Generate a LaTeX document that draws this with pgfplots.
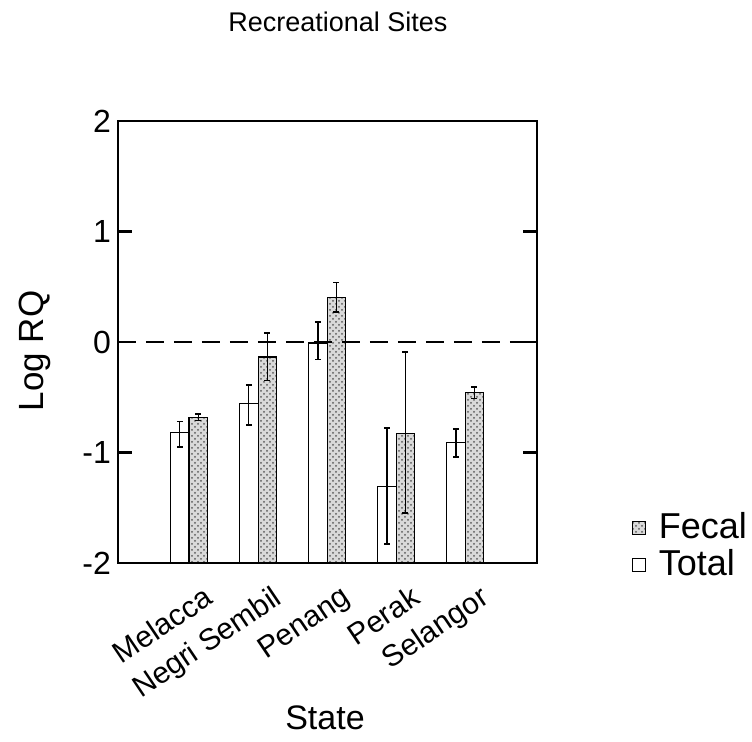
\documentclass[border=0pt]{standalone}
\usepackage{fontspec}
\setmainfont{Liberation Sans}
\usepackage{pgfplots}
\usepackage{pgfplotstable}
\pgfplotsset{compat=1.18}
\usetikzlibrary{patterns}

% values: log RQ, error plus, error minus
\pgfplotstableread{
x total tplus tminus
0 -0.82 0.10 0.13
1 -0.555 0.165 0.195
2 -0.01 0.19 0.15
3 -1.31 0.53 0.52
4 -0.91 0.12 0.13
}\totaltable
\pgfplotstableread{
x fecal fplus fminus
0 -0.68 0.03 0.03
1 -0.135 0.215 0.215
2 0.40 0.14 0.13
3 -0.83 0.74 0.72
4 -0.46 0.05 0.05
}\fecaltable

\begin{document}
\begin{tikzpicture}
\useasboundingbox (-59pt,-89.5pt) rectangle (317pt,281.5pt);
\begin{axis}[
  at={(0,0)}, anchor=south west,
  scale only axis,
  width=209.5pt, height=221pt,
  xmin=-1.03, xmax=5.04,
  ymin=0, ymax=4,
  ybar=0pt, bar width=9.25pt,
  axis line style={line width=1.1pt},
  xtick={0,1,2,3,4},
  xticklabels={Melacca,Negri Sembil,Penang,Perak,Selangor},
  major x tick style={draw=none},
  xticklabel style={font=\fontsize{15}{17}\selectfont, rotate=34, anchor=north east, xshift=3pt, yshift=-9pt},
  ytick={0,1,2,3,4},
  yticklabels={-2,-1,0,1,2},
  ytick pos=both,
  tick align=inside,
  major tick length=7pt,
  every tick/.style={line width=1.1pt, black},
  yticklabel style={font=\fontsize{16}{18}\selectfont},
  title={Recreational Sites},
  title style={font=\fontsize{13.5}{15}\selectfont, at={(axis description cs:0.525,1.197)}, anchor=center},
  xlabel={State},
  xlabel style={font=\fontsize{17}{19}\selectfont, at={(axis description cs:0.494,-0.351)}, anchor=center},
  ylabel={Log RQ},
  ylabel style={font=\fontsize{17.5}{19}\selectfont, at={(axis description cs:-0.198,0.48)}, anchor=center},
  legend style={at={(1.225,0.124)}, anchor=north west, draw=none, fill=none, inner sep=0pt,
    font=\fontsize{18}{21.5}\selectfont, row sep=0pt},
  legend cell align=left,
  reverse legend,
  legend image code/.code={\draw[#1, line width=0.6pt] (0pt,-3.5pt) rectangle (6.5pt,3pt); \path (11pt,0pt);},
]
\addplot[draw=black, line width=0.6pt, fill=white,
  error bars/.cd, y dir=both, y explicit,
  error bar style={line width=0.6pt, black},
  error mark options={rotate=90, mark size=1.5pt, line width=0.8pt}]
  table[x=x, y expr=\thisrow{total}+2, y error plus=tplus, y error minus=tminus] {\totaltable};
\addlegendentry{Total}
\addplot[draw=black, line width=0.6pt, fill=gray!30,
  postaction={pattern=crosshatch dots, pattern color=black!65},
  error bars/.cd, y dir=both, y explicit,
  error bar style={line width=0.6pt, black},
  error mark options={rotate=90, mark size=1.5pt, line width=0.8pt}]
  table[x=x, y expr=\thisrow{fecal}+2, y error plus=fplus, y error minus=fminus] {\fecaltable};
\addlegendentry{Fecal}
\addplot[sharp plot, forget plot, black, line width=1.1pt, dash pattern=on 9pt off 5pt]
  coordinates {(-1.03,2) (5.04,2)};
\end{axis}
\end{tikzpicture}
\end{document}
